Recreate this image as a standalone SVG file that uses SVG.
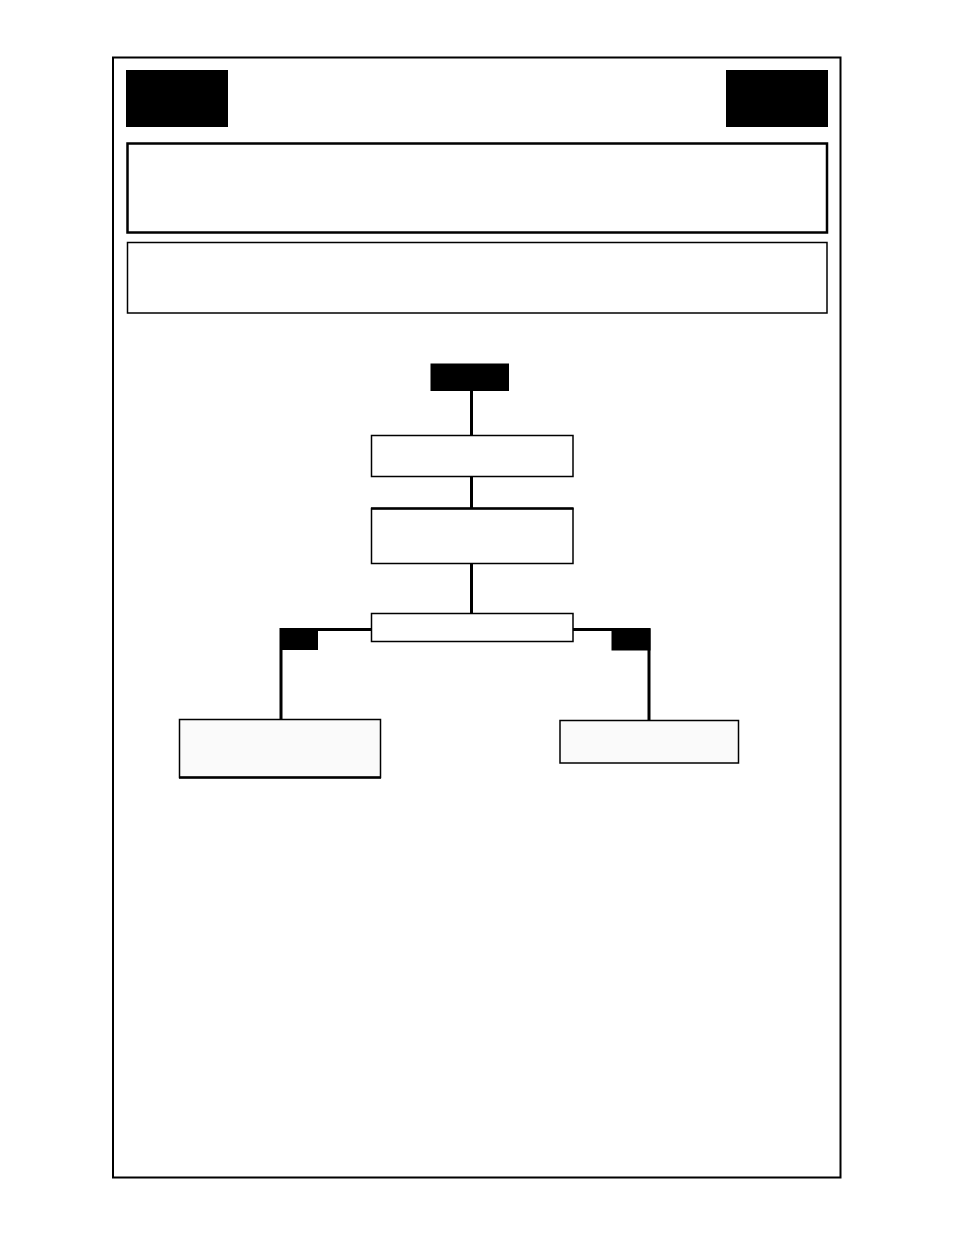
<svg xmlns="http://www.w3.org/2000/svg" width="954" height="1235" viewBox="0 0 954 1235">
<style>
.frame{fill:#fff;stroke:#000;stroke-width:2}
.blk{fill:#000;stroke:none}
.box{fill:#fff;stroke:#000;stroke-width:1.5}
.gbox{fill:#fafafa;stroke:#000;stroke-width:1.5}
.wire{fill:none;stroke:#000;stroke-width:3}
</style>
<rect x="0" y="0" width="954" height="1235" fill="#fff"/>
<g id="frame"><rect class="frame" x="113" y="57.5" width="727.5" height="1120"/></g>
<g id="header-left"><rect class="blk" x="126" y="70" width="102" height="57"/></g>
<g id="header-right"><rect class="blk" x="726" y="70" width="102" height="57"/></g>
<g id="panel-1"><rect class="frame" x="127.5" y="143.5" width="699.5" height="89" style="stroke-width:2.5"/></g>
<g id="panel-2"><rect class="box" x="127.5" y="242.5" width="699.5" height="70.5"/></g>
<g id="connectors">
<line class="wire" x1="471.5" y1="391" x2="471.5" y2="435.5"/>
<line class="wire" x1="471.5" y1="476.5" x2="471.5" y2="508"/>
<line class="wire" x1="471.5" y1="563.5" x2="471.5" y2="613.5"/>
<polyline class="wire" points="371.5,629.5 281,629.5 281,719.5"/>
<polyline class="wire" points="573,629.5 649,629.5 649,720.5"/>
</g>
<g id="start"><rect class="blk" x="430.5" y="363.5" width="78.5" height="27.5"/></g>
<g id="node-a"><rect class="box" x="371.5" y="435.5" width="201.5" height="41"/></g>
<g id="node-b"><rect class="box" x="371.5" y="508.5" width="201.5" height="55"/><line x1="371" y1="508.5" x2="573.5" y2="508.5" stroke="#000" stroke-width="2.5"/></g>
<g id="node-c"><rect class="box" x="371.5" y="613.5" width="201.5" height="28"/></g>
<g id="tag-left"><rect class="blk" x="280" y="629" width="38" height="21"/></g>
<g id="tag-right"><rect class="blk" x="611.5" y="628.5" width="39" height="22"/></g>
<g id="node-left"><rect class="gbox" x="179.5" y="719.5" width="201" height="58"/><line x1="179" y1="777.5" x2="381" y2="777.5" stroke="#000" stroke-width="2.5"/></g>
<g id="node-right"><rect class="gbox" x="560" y="720.5" width="178.5" height="42.5"/></g>
</svg>
